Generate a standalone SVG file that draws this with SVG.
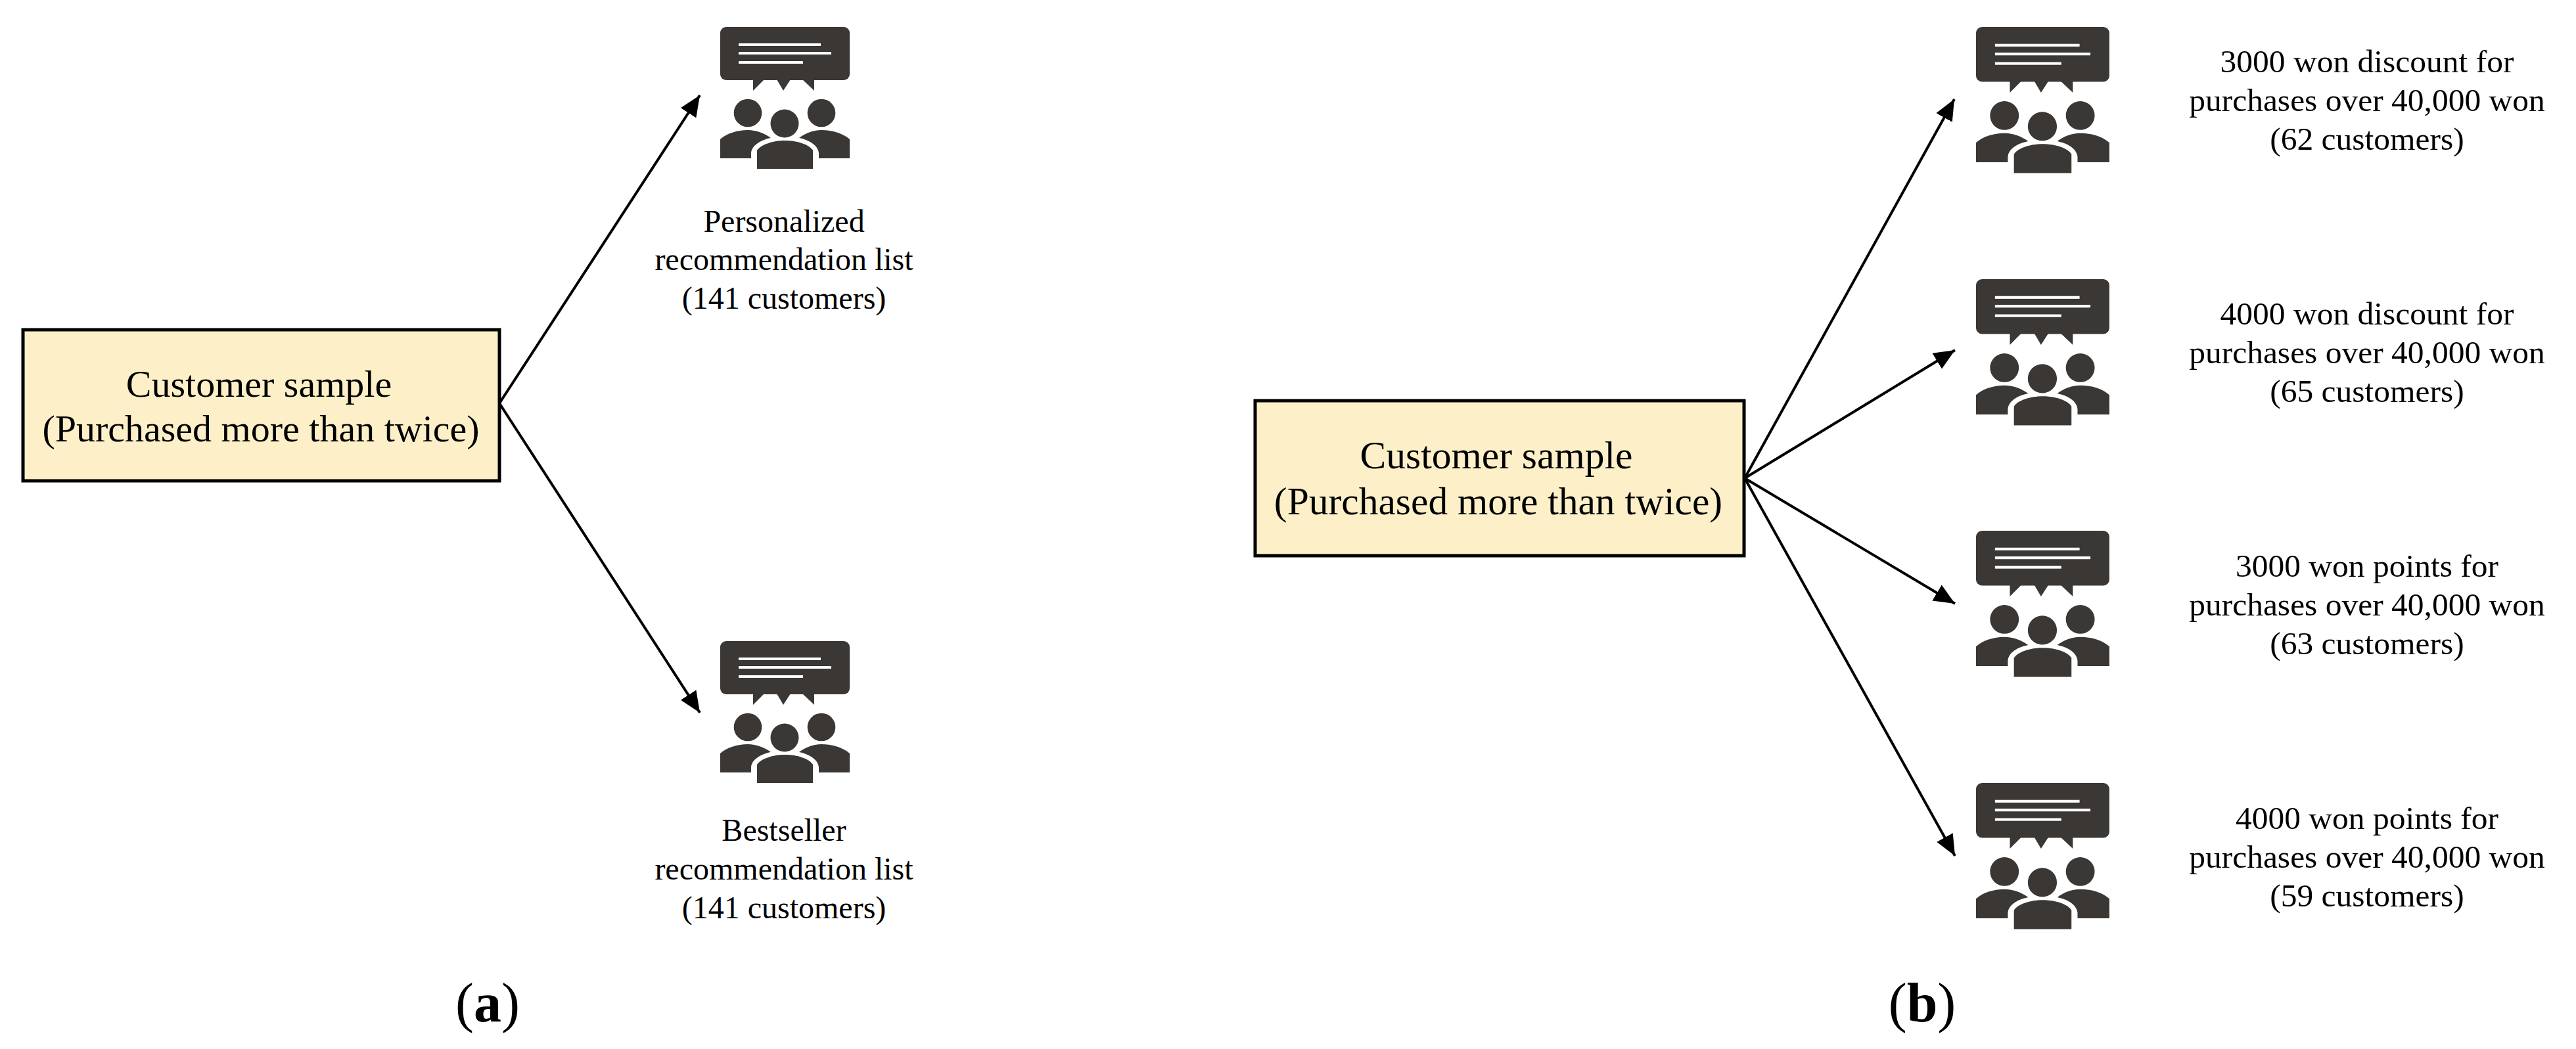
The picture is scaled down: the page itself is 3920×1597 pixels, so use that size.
<svg xmlns="http://www.w3.org/2000/svg" xmlns:xlink="http://www.w3.org/1999/xlink" width="3920" height="1597" viewBox="0 0 3920 1597">
<style>
text{font-family:"Liberation Serif","Times New Roman",serif;fill:#000;text-anchor:middle}
.box{fill:#FDF0C9;stroke:#000;stroke-width:5}
.biga{font-size:58px}
.bigb{font-size:59.5px}
.lab{font-size:48px}
.labb{font-size:49.5px}
.cap{font-size:84px}
.con{stroke:#000;stroke-width:4;fill:none;marker-end:url(#arr)}
.ic{fill:#3B3735}
.ln{fill:#fff}
</style>
<defs>
<marker id="arr" markerUnits="userSpaceOnUse" markerWidth="34" markerHeight="30" refX="32" refY="15" orient="auto"><path d="M0,1 L32,15 L0,29 Z" fill="#000"/></marker>
<g id="icon">
<rect class="ic" x="0" y="0" width="197" height="81" rx="9"/>
<path class="ic" d="M50,80 V97 L67,80 Z M86,80 L96,97 L107,80 Z M125,80 L143,97 V80 Z"/>
<rect class="ln" x="28" y="25" width="125" height="4"/><rect class="ln" x="28" y="38" width="141" height="4"/><rect class="ln" x="28" y="52" width="98" height="4"/>
<circle class="ic" cx="42" cy="131" r="21.3"/><circle class="ic" cx="154" cy="131" r="21.3"/><circle class="ic" cx="98" cy="147" r="21.5"/>
<path class="ic" d="M0,200 V171 C10,162 26,157 42,157 C55,157 68,162 77,169 C62,172 48,180 47,192 V200 Z"/>
<path class="ic" d="M197,200 V171 C187,162 171,157 154,157 C141,157 129,162 120,169 C135,172 149,180 150,192 V200 Z"/>
<path class="ic" d="M56,216 V188 C62,179 80,173 98,173 C118,173 135,179 141,188 V216 Z"/>
</g>
</defs>
<rect width="3920" height="1597" fill="#fff"/>
<g id="connectors">
<line class="con" x1="760" y1="614" x2="1065" y2="145"/>
<line class="con" x1="760" y1="614" x2="1065" y2="1085"/>
<line class="con" x1="2655" y1="728" x2="2974" y2="151"/>
<line class="con" x1="2655" y1="728" x2="2975" y2="533"/>
<line class="con" x1="2655" y1="728" x2="2975" y2="919"/>
<line class="con" x1="2655" y1="728" x2="2975" y2="1303"/>
</g>
<g id="source-a"><rect class="box" x="35" y="502" width="725" height="230"/><text class="biga" x="394" y="604">Customer sample</text><text class="biga" x="397" y="672">(Purchased more than twice)</text></g>
<g id="source-b"><rect class="box" x="1910" y="610" width="744" height="236"/><text class="bigb" x="2277" y="713">Customer sample</text><text class="bigb" x="2280" y="783">(Purchased more than twice)</text></g>
<g id="a1"><use xlink:href="#icon" href="#icon" transform="translate(1096,41)"/><text class="lab" x="1193" y="353">Personalized</text><text class="lab" x="1193" y="411">recommendation list</text><text class="lab" x="1193" y="470">(141 customers)</text></g>
<g id="a2"><use xlink:href="#icon" href="#icon" transform="translate(1096,976)"/><text class="lab" x="1193" y="1280">Bestseller</text><text class="lab" x="1193" y="1339">recommendation list</text><text class="lab" x="1193" y="1398">(141 customers)</text></g>
<g id="b1"><use xlink:href="#icon" href="#icon" transform="translate(3007,41) scale(1.03)"/><text class="labb" x="3602" y="110">3000 won discount for</text><text class="labb" x="3602" y="169">purchases over 40,000 won</text><text class="labb" x="3602" y="228">(62 customers)</text></g>
<g id="b2"><use xlink:href="#icon" href="#icon" transform="translate(3007,425) scale(1.03)"/><text class="labb" x="3602" y="494">4000 won discount for</text><text class="labb" x="3602" y="553">purchases over 40,000 won</text><text class="labb" x="3602" y="612">(65 customers)</text></g>
<g id="b3"><use xlink:href="#icon" href="#icon" transform="translate(3007,808) scale(1.03)"/><text class="labb" x="3602" y="878">3000 won points for</text><text class="labb" x="3602" y="937">purchases over 40,000 won</text><text class="labb" x="3602" y="996">(63 customers)</text></g>
<g id="b4"><use xlink:href="#icon" href="#icon" transform="translate(3007,1192) scale(1.03)"/><text class="labb" x="3602" y="1262">4000 won points for</text><text class="labb" x="3602" y="1321">purchases over 40,000 won</text><text class="labb" x="3602" y="1380">(59 customers)</text></g>
<text class="cap" x="742" y="1555">(<tspan font-weight="700">a</tspan>)</text>
<text class="cap" x="2925" y="1555">(<tspan font-weight="700">b</tspan>)</text>
</svg>
